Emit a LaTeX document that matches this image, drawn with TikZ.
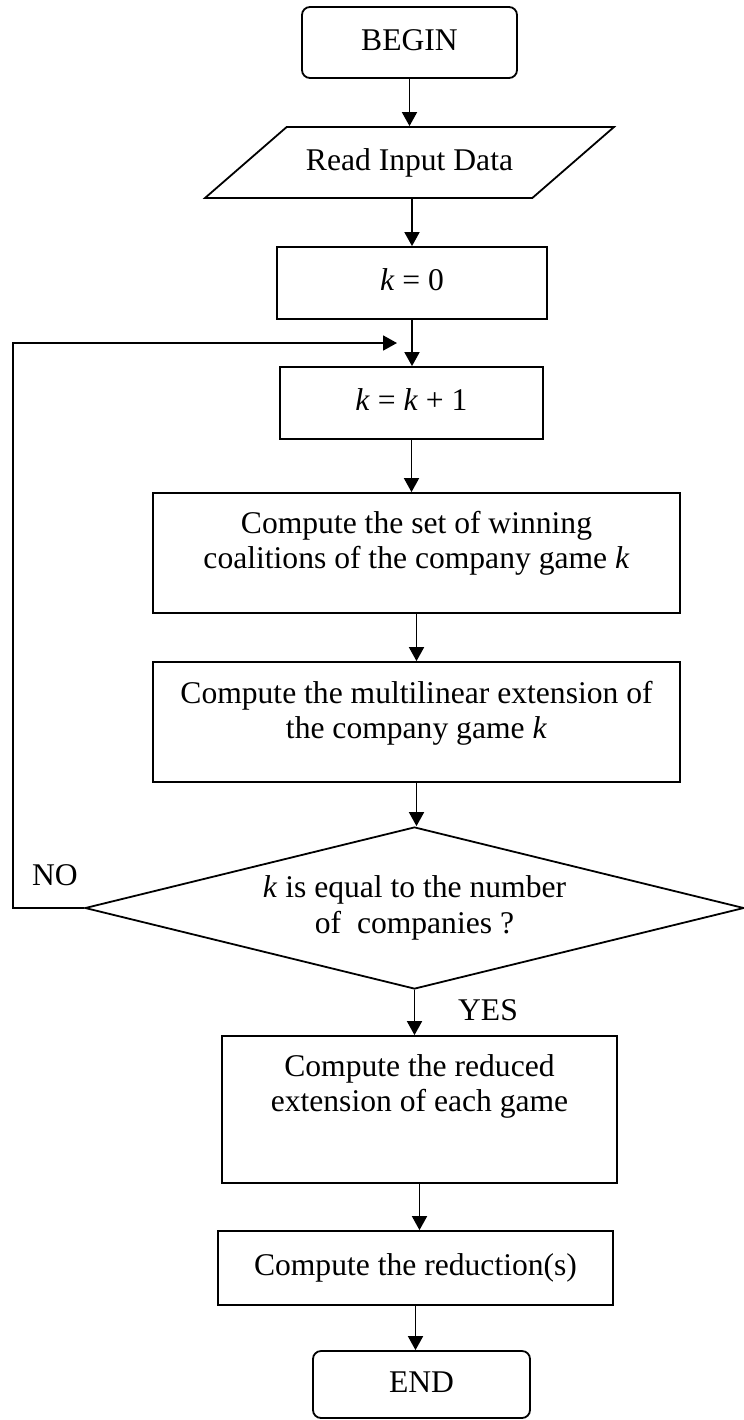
\documentclass[tikz,border=0pt]{standalone}
\usepackage{fontspec}
\setmainfont{Liberation Serif}
\usetikzlibrary{shapes.geometric,arrows.meta}

\begin{document}
\begin{tikzpicture}[x=0.5pt,y=-0.5pt,-{Triangle[length=7pt,width=7.5pt]},
		line width=0.9pt,
		every node/.style={font=\fontsize{15.8}{17.8}\selectfont},
		term/.style={draw,rounded corners=4pt,text height=10.9pt,text depth=3.4pt},
		io/.style={draw,trapezium,trapezium left angle=41,trapezium right angle=139,
			trapezium stretches body,minimum width=204.5pt,inner ysep=10.6pt,
			text height=10.9pt,text depth=3.4pt},
		small box/.style={draw,text height=10.9pt,text depth=3.4pt},
		big box/.style={draw,align=center},
		test/.style={draw,diamond,aspect=4,inner sep=1pt,align=center,
			minimum width=329.5pt,minimum height=81pt}]

		\useasboundingbox (0,0) rectangle (744,1420);

		\node[term,minimum width=107.5pt,minimum height=35.5pt] (1) at (409.5,42.5) {BEGIN};
		\node[io] (2) at (409.5,162.5) {Read Input Data};
		\node[small box,minimum width=135pt,minimum height=36pt] (3) at (412,283) {\textit{k} = 0};
		\node[small box,minimum width=131.5pt,minimum height=36pt] (4) at (411.5,403) {\textit{k} = \textit{k} + 1};
		\node[big box,minimum width=263.5pt,minimum height=60pt,text depth=13pt] (5) at (416.5,553)
			{Compute the set of winning\\coalitions of the company game \textit{k}};
		\node[big box,minimum width=263.5pt,minimum height=60pt,text depth=12pt] (6) at (416.5,722)
			{Compute the multilinear extension of\\the company game \textit{k}};
		\node[test] (7) at (414.5,908) {\textit{k} is equal to the number\\of \ companies ?};
		\node[big box,minimum width=197.5pt,minimum height=73.5pt,text depth=26.6pt] (8) at (419.5,1109.5)
			{Compute the reduced\\extension of each game};
		\node[small box,minimum width=197.5pt,minimum height=37pt] (9) at (415.5,1268) {Compute the reduction(s)};
		\node[term,minimum width=108.5pt,minimum height=33.5pt] (10) at (421.5,1384.5) {END};

		\node (no) at (55,875) {NO};
		\node (yes) at (488,1010) {YES};

		\coordinate (corner) at (13,343);
		\coordinate (back) at (397,343);

		\path (1.south) edge (1.south |- 2.north)
		(2.south -| 3.north) edge (3.north)
		(3.south) edge (3.south |- 4.north)
		(4.south) edge (4.south |- 5.north)
		(5.south) edge (5.south |- 6.north)
		(6.south) edge (6.south |- 7.north)
		(7.south) edge (7.south |- 8.north)
		(8.south) edge (8.south |- 9.north)
		(9.south) edge (9.south |- 10.north);

		\draw (7.west) -- (corner |- 7.west) -- (corner) -- (back);
	\end{tikzpicture}
\end{document}
